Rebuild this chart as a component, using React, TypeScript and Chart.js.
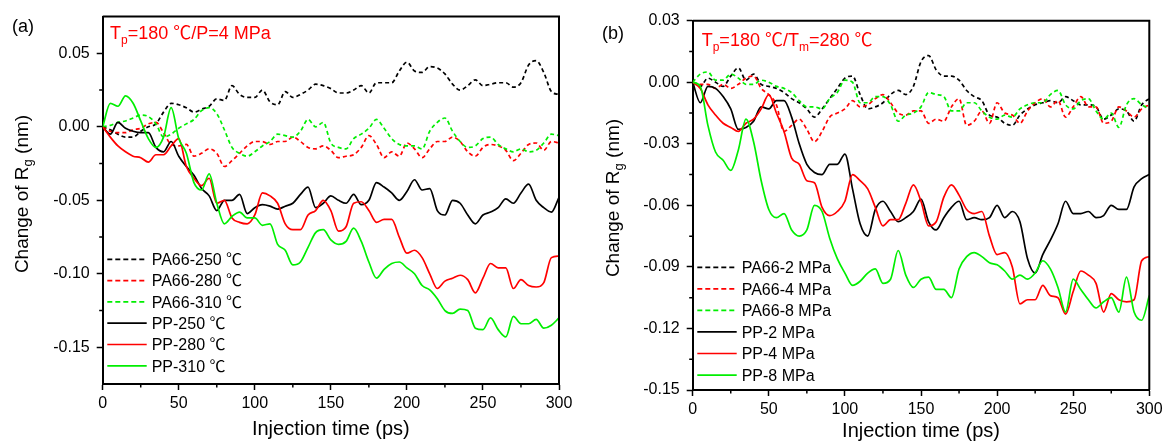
import React, { useEffect, useRef } from "react";
import { Chart, registerables } from "chart.js";

Chart.register(...registerables);

// ---------- DATA ----------
const timePs = [
  0, 5, 10, 15, 20, 25, 30, 35, 40, 45, 50, 55, 60, 65, 70, 75, 80, 85, 90, 95,
  100, 105, 110, 115, 120, 125, 130, 135, 140, 145, 150, 155, 160, 165, 170, 175, 180, 185, 190, 195,
  200, 205, 210, 215, 220, 225, 230, 235, 240, 245, 250, 255, 260, 265, 270, 275, 280, 285, 290, 295, 300,
];

// Panel (a): Tp=180 ℃ / P=4 MPa
const a_PA66_250 = [
  0, -0.002, -0.005, -0.007, -0.007, -0.003, 0, 0.002, 0.010, 0.016,
  0.015, 0.013, 0.010, 0.012, 0.014, 0.019, 0.018, 0.028, 0.022, 0.020,
  0.020, 0.025, 0.017, 0.015, 0.024, 0.020, 0.022, 0.025, 0.029, 0.028,
  0.026, 0.023, 0.023, 0.025, 0.028, 0.023, 0.030, 0.030, 0.030, 0.038,
  0.044, 0.038, 0.037, 0.041, 0.040, 0.036, 0.029, 0.025, 0.028, 0.032,
  0.028, 0.029, 0.030, 0.030, 0.027, 0.030, 0.042, 0.045, 0.037, 0.024, 0.022,
];
const a_PA66_280 = [
  0, -0.003, -0.004, -0.004, -0.002, -0.001, 0.002, 0.003, -0.004, -0.012,
  -0.013, -0.012, -0.020, -0.018, -0.015, -0.018, -0.027, -0.023, -0.018, -0.013,
  -0.010, -0.010, -0.012, -0.010, -0.010, -0.007, -0.010, -0.014, -0.015, -0.013,
  -0.016, -0.021, -0.020, -0.019, -0.014, -0.006, -0.012, -0.021, -0.017, -0.020,
  -0.011, -0.015, -0.021, -0.015, -0.010, -0.010, -0.007, -0.010, -0.017, -0.020,
  -0.014, -0.012, -0.013, -0.016, -0.023, -0.018, -0.012, -0.011, -0.016, -0.010, -0.011,
];
const a_PA66_310 = [
  0, 0.001, 0.003, 0.004, 0.006, 0.008, 0.007, 0.002, -0.007, -0.005,
  -0.001, 0.002, 0.005, 0.011, 0.013, 0.009, -0.002, -0.014, -0.018, -0.020,
  -0.017, -0.013, -0.010, -0.005, -0.006, -0.007, -0.003, 0.005, 0.000, 0.003,
  -0.011, -0.014, -0.015, -0.008, -0.005, -0.001, 0.005, -0.001, -0.008, -0.012,
  -0.013, -0.013, -0.015, -0.003, 0.003, 0.006, -0.003, -0.010, -0.014, -0.013,
  -0.008, -0.007, -0.012, -0.015, -0.017, -0.015, -0.017, -0.016, -0.011, -0.005, -0.006,
];
const a_PP_250 = [
  0, -0.005, 0.003, -0.001, -0.003, -0.004, -0.004, -0.014, -0.017, -0.010,
  -0.020, -0.027, -0.033, -0.042, -0.047, -0.057, -0.050, -0.050, -0.046, -0.059,
  -0.055, -0.053, -0.054, -0.056, -0.054, -0.052, -0.046, -0.041, -0.055, -0.052,
  -0.047, -0.050, -0.052, -0.046, -0.053, -0.050, -0.038, -0.041, -0.045, -0.050,
  -0.044, -0.036, -0.043, -0.042, -0.057, -0.060, -0.050, -0.052, -0.060, -0.066,
  -0.060, -0.058, -0.055, -0.049, -0.052, -0.045, -0.039, -0.050, -0.055, -0.058, -0.048,
];
const a_PP_280 = [
  0, -0.007, -0.013, -0.017, -0.020, -0.021, -0.024, -0.019, -0.019, -0.013,
  -0.008, -0.027, -0.035, -0.040, -0.035, -0.052, -0.050, -0.062, -0.065, -0.066,
  -0.060, -0.045, -0.047, -0.052, -0.066, -0.070, -0.070, -0.060, -0.057, -0.050,
  -0.057, -0.071, -0.068, -0.052, -0.051, -0.057, -0.065, -0.063, -0.063, -0.075,
  -0.086, -0.084, -0.089, -0.100, -0.110, -0.105, -0.103, -0.101, -0.104, -0.113,
  -0.103, -0.093, -0.096, -0.096, -0.110, -0.104, -0.108, -0.109, -0.106, -0.089, -0.088,
];
const a_PP_310 = [
  0, 0.016, 0.014, 0.021, 0.016, 0.004, -0.008, -0.014, -0.007, 0.013,
  -0.008, -0.018, -0.038, -0.043, -0.032, -0.052, -0.066, -0.061, -0.058, -0.062,
  -0.062, -0.067, -0.066, -0.080, -0.084, -0.094, -0.092, -0.082, -0.072, -0.070,
  -0.077, -0.080, -0.078, -0.069, -0.078, -0.092, -0.103, -0.097, -0.093, -0.092,
  -0.096, -0.100, -0.108, -0.111, -0.117, -0.125, -0.127, -0.124, -0.125, -0.137,
  -0.138, -0.130, -0.138, -0.143, -0.129, -0.134, -0.134, -0.131, -0.137, -0.135, -0.130,
];

// Panel (b): Tp=180 ℃ / Tm=280 ℃
const b_PA66_2 = [
  0, -0.002, 0.002, 0, -0.002, 0.003, 0.007, 0.001, 0.004, -0.001,
  -0.002, -0.003, -0.005, -0.008, -0.010, -0.013, -0.017, -0.013, -0.008, -0.003,
  0.002, 0.003, -0.006, -0.013, -0.012, -0.010, -0.006, -0.004, -0.006, -0.002,
  0.010, 0.013, 0.006, 0.003, 0.003, 0.001, -0.004, -0.007, -0.009, -0.016,
  -0.017, -0.020, -0.021, -0.016, -0.013, -0.011, -0.010, -0.009, -0.010, -0.007,
  -0.009, -0.011, -0.011, -0.012, -0.018, -0.016, -0.013, -0.014, -0.019, -0.011, -0.008,
];
const b_PA66_4 = [
  0, -0.001, -0.001, -0.003, -0.001, -0.003, -0.001, 0.002, 0.003, -0.003,
  -0.006, -0.011, -0.024, -0.021, -0.018, -0.023, -0.029, -0.024, -0.017, -0.015,
  -0.013, -0.009, -0.012, -0.011, -0.008, -0.006, -0.010, -0.015, -0.016, -0.014,
  -0.014, -0.020, -0.018, -0.019, -0.012, -0.008, -0.021, -0.019, -0.014, -0.020,
  -0.010, -0.015, -0.016, -0.020, -0.014, -0.010, -0.008, -0.012, -0.009, -0.017,
  -0.012, -0.007, -0.012, -0.012, -0.020, -0.019, -0.012, -0.014, -0.017, -0.013, -0.011,
];
const b_PA66_8 = [
  0, 0.004, 0.005, 0.001, 0.001, 0.004, 0.002, -0.001, -0.001, 0.001,
  0, -0.002, -0.003, -0.005, -0.009, -0.012, -0.012, -0.013, -0.008, -0.005,
  0.001, 0, -0.010, -0.010, -0.007, -0.007, -0.011, -0.019, -0.016, -0.015,
  -0.012, -0.005, -0.006, -0.007, -0.014, -0.014, -0.010, -0.010, -0.014, -0.017,
  -0.018, -0.016, -0.017, -0.013, -0.011, -0.010, -0.010, -0.006, -0.004, -0.011,
  -0.013, -0.009, -0.008, -0.014, -0.018, -0.015, -0.022, -0.011, -0.008, -0.011, -0.013,
];
const b_PP_2 = [
  0, -0.010, -0.002, -0.003, -0.007, -0.013, -0.023, -0.022, -0.019, -0.012,
  -0.013, -0.009, -0.009, -0.017, -0.030, -0.040, -0.044, -0.045, -0.040, -0.040,
  -0.035, -0.052, -0.069, -0.075, -0.062, -0.058, -0.063, -0.068, -0.066, -0.063,
  -0.057, -0.068, -0.072, -0.066, -0.061, -0.058, -0.067, -0.066, -0.067, -0.066,
  -0.060, -0.066, -0.063, -0.068, -0.086, -0.093, -0.084, -0.077, -0.069, -0.058,
  -0.064, -0.064, -0.063, -0.066, -0.065, -0.060, -0.062, -0.062, -0.051, -0.047, -0.045,
];
const b_PP_4 = [
  0, -0.003, -0.011, -0.016, -0.020, -0.022, -0.024, -0.020, -0.018, -0.013,
  -0.006, -0.015, -0.024, -0.037, -0.040, -0.048, -0.049, -0.061, -0.065, -0.063,
  -0.058, -0.045, -0.048, -0.052, -0.061, -0.070, -0.067, -0.067, -0.059, -0.050,
  -0.058, -0.070, -0.068, -0.056, -0.050, -0.055, -0.062, -0.064, -0.063, -0.075,
  -0.084, -0.083, -0.090, -0.108, -0.106, -0.106, -0.099, -0.104, -0.105, -0.113,
  -0.102, -0.092, -0.094, -0.098, -0.112, -0.103, -0.106, -0.107, -0.106, -0.087, -0.085,
];
const b_PP_8 = [
  0, -0.002, -0.021, -0.034, -0.038, -0.043, -0.033, -0.018, -0.029, -0.048,
  -0.062, -0.066, -0.064, -0.072, -0.075, -0.072, -0.060, -0.063, -0.076, -0.086,
  -0.093, -0.099, -0.097, -0.093, -0.091, -0.098, -0.096, -0.082, -0.094, -0.100,
  -0.096, -0.095, -0.101, -0.101, -0.105, -0.091, -0.085, -0.083, -0.085, -0.088,
  -0.089, -0.092, -0.096, -0.094, -0.096, -0.093, -0.087, -0.091, -0.100, -0.112,
  -0.096, -0.101, -0.106, -0.110, -0.107, -0.105, -0.112, -0.095, -0.112, -0.116, -0.104,
];

const labelsA = ["PA66-250 ℃", "PA66-280 ℃", "PA66-310 ℃", "PP-250 ℃", "PP-280 ℃", "PP-310 ℃"];
const labelsB = ["PA66-2 MPa", "PA66-4 MPa", "PA66-8 MPa", "PP-2 MPa", "PP-4 MPa", "PP-8 MPa"];

const xMajorTicks = [0, 50, 100, 150, 200, 250, 300];
const xMinorTicks = [25, 75, 125, 175, 225, 275];
const yMajorTicksA = [-0.15, -0.1, -0.05, 0, 0.05];
const yMinorTicksA = [-0.125, -0.075, -0.025, 0.025];
const yMajorTicksB = [-0.15, -0.12, -0.09, -0.06, -0.03, 0, 0.03];
const yMinorTicksB = [-0.135, -0.105, -0.075, -0.045, -0.015, 0.015];

// ---------- STYLE ----------
const FONT = '"Liberation Sans", Arial, sans-serif';
const CJK = '"Noto Sans CJK SC", "Liberation Sans", sans-serif';
const BLACK = "#000000";
const RED = "#ff0000";
const GREEN = "#00ee00";
const seriesColors = [BLACK, RED, GREEN, BLACK, RED, GREEN];
const seriesDashed = [true, true, true, false, false, false];

type Part = { t: string; size: number; dy?: number };

type PanelCfg = {
  series: number[][];
  labels: string[];
  yMin: number;
  yMax: number;
  yMajor: number[];
  yMinor: number[];
  padding: { left: number; right: number; top: number; bottom: number };
  yWidth: number;
  xHeight: number;
  panelLabel: string;
  panelLabelPos: [number, number];
  note: Part[];
  notePos: [number, number];
  legend: { x0: number; x1: number; tx: number; y0: number; dy: number };
  yTitlePos: [number, number];
  xTitleY: number;
};

const panelA: PanelCfg = {
  series: [a_PA66_250, a_PA66_280, a_PA66_310, a_PP_250, a_PP_280, a_PP_310],
  labels: labelsA,
  yMin: -0.175,
  yMax: 0.075,
  yMajor: yMajorTicksA,
  yMinor: yMinorTicksA,
  padding: { left: 0, right: 26, top: 15, bottom: 0 },
  yWidth: 102.7,
  xHeight: 61,
  panelLabel: "(a)",
  panelLabelPos: [12, 32],
  note: [
    { t: "T", size: 18 },
    { t: "p", size: 12, dy: 5 },
    { t: "=180 ℃/P=4 MPa", size: 18 },
  ],
  notePos: [110, 39.3],
  legend: { x0: 107.3, x1: 146.7, tx: 151.7, y0: 259.3, dy: 21.3 },
  yTitlePos: [27.5, 194],
  xTitleY: 435,
};

const panelB: PanelCfg = {
  series: [b_PA66_2, b_PA66_4, b_PA66_8, b_PP_2, b_PP_4, b_PP_8],
  labels: labelsB,
  yMin: -0.15,
  yMax: 0.03,
  yMajor: yMajorTicksB,
  yMinor: yMinorTicksB,
  padding: { left: 0, right: 19.7, top: 20.7, bottom: 0 },
  yWidth: 107.7,
  xHeight: 55,
  panelLabel: "(b)",
  panelLabelPos: [17, 39],
  note: [
    { t: "T", size: 18 },
    { t: "p", size: 12, dy: 5 },
    { t: "=180 ℃/T", size: 18 },
    { t: "m", size: 12, dy: 5 },
    { t: "=280 ℃", size: 18 },
  ],
  notePos: [116.7, 46],
  legend: { x0: 112.3, x1: 151.7, tx: 156.7, y0: 267.3, dy: 21.55 },
  yTitlePos: [33.5, 198],
  xTitleY: 437,
};

// draws text, rendering the ℃ sign with a CJK (full-width) font
function drawMixed(ctx: CanvasRenderingContext2D, text: string, size: number, x: number, y: number, draw = true) {
  const segs = text.split(/(℃)/);
  let cx = x;
  for (const s of segs) {
    if (!s) continue;
    ctx.font = s === "℃" ? `${size}px ${CJK}` : `${size}px ${FONT}`;
    if (draw) ctx.fillText(s, cx, y);
    cx += ctx.measureText(s).width;
  }
  return cx - x;
}

function drawParts(ctx: CanvasRenderingContext2D, parts: Part[], x: number, y: number, draw = true) {
  let cx = x;
  for (const p of parts) {
    cx += drawMixed(ctx, p.t, p.size, cx, y + (p.dy || 0), draw);
  }
  return cx - x;
}

function makeDecor(cfg: PanelCfg) {
  return {
    id: "decor",
    afterDraw(chart: any) {
      const ctx: CanvasRenderingContext2D = chart.ctx;
      const { left, right, top, bottom } = chart.chartArea;
      const xs = chart.scales.x;
      const ys = chart.scales.y;
      ctx.save();
      ctx.strokeStyle = BLACK;
      ctx.lineWidth = 2;
      ctx.setLineDash([]);
      // frame top & right
      ctx.beginPath();
      ctx.moveTo(left, top);
      ctx.lineTo(right, top);
      ctx.lineTo(right, bottom);
      ctx.stroke();
      // minor ticks
      ctx.lineWidth = 1.5;
      ctx.beginPath();
      for (const v of xMinorTicks) {
        const px = xs.getPixelForValue(v);
        ctx.moveTo(px, bottom);
        ctx.lineTo(px, bottom + 3.5);
      }
      for (const v of cfg.yMinor) {
        const py = ys.getPixelForValue(v);
        ctx.moveTo(left, py);
        ctx.lineTo(left - 3.5, py);
      }
      ctx.stroke();

      // legend
      const lg = cfg.legend;
      chart.data.datasets.forEach((ds: any, i: number) => {
        const y = lg.y0 + i * lg.dy;
        ctx.strokeStyle = ds.borderColor;
        ctx.lineWidth = 1.7;
        ctx.setLineDash(ds.borderDash && ds.borderDash.length ? [5, 3] : []);
        ctx.beginPath();
        ctx.moveTo(lg.x0, y);
        ctx.lineTo(lg.x1, y);
        ctx.stroke();
        ctx.setLineDash([]);
        ctx.fillStyle = BLACK;
        ctx.textBaseline = "alphabetic";
        ctx.textAlign = "left";
        drawMixed(ctx, ds.label, 16, lg.tx, y + 5.8);
      });

      ctx.textAlign = "left";
      ctx.textBaseline = "alphabetic";
      // panel label
      ctx.fillStyle = BLACK;
      ctx.font = `18px ${FONT}`;
      ctx.fillText(cfg.panelLabel, cfg.panelLabelPos[0], cfg.panelLabelPos[1]);

      // note (red)
      ctx.fillStyle = RED;
      drawParts(ctx, cfg.note, cfg.notePos[0], cfg.notePos[1]);

      // x title
      ctx.fillStyle = BLACK;
      ctx.font = `20px ${FONT}`;
      ctx.textAlign = "center";
      ctx.fillText("Injection time (ps)", (left + right) / 2, cfg.xTitleY);

      // y title (rotated)
      const yParts: Part[] = [
        { t: "Change of R", size: 19 },
        { t: "g", size: 13, dy: 4 },
        { t: " (nm)", size: 19 },
      ];
      ctx.textAlign = "left";
      ctx.save();
      ctx.translate(cfg.yTitlePos[0], cfg.yTitlePos[1]);
      ctx.rotate(-Math.PI / 2);
      const w = drawParts(ctx, yParts, 0, 0, false);
      drawParts(ctx, yParts, -w / 2, 0);
      ctx.restore();

      ctx.restore();
    },
  };
}

function Panel({ cfg, x, width }: { cfg: PanelCfg; x: number; width: number }) {
  const ref = useRef<HTMLCanvasElement>(null);
  useEffect(() => {
    const canvas = ref.current!;
    const datasets = cfg.series.map((vals, i) => ({
      label: cfg.labels[i],
      data: timePs.map((t, j) => ({ x: t, y: vals[j] })),
      borderColor: seriesColors[i],
      backgroundColor: seriesColors[i],
      borderWidth: 1.7,
      borderDash: seriesDashed[i] ? [4, 3] : [],
      pointRadius: 0,
      fill: false,
      cubicInterpolationMode: "monotone" as const,
      order: cfg.series.length - i,
    }));
    const tickFont = { family: FONT, size: 16 };
    const chart = new Chart(canvas, {
      type: "line",
      data: { datasets },
      plugins: [makeDecor(cfg)],
      options: {
        animation: false,
        responsive: false,
        maintainAspectRatio: false,
        layout: { padding: cfg.padding },
        plugins: { legend: { display: false }, tooltip: { enabled: false } },
        scales: {
          x: {
            type: "linear",
            min: 0,
            max: 300,
            afterBuildTicks: (s: any) => {
              s.ticks = xMajorTicks.map((v) => ({ value: v }));
            },
            afterFit: (s: any) => {
              s.height = cfg.xHeight;
            },
            ticks: {
              font: tickFont,
              color: BLACK,
              padding: 4,
              maxRotation: 0,
              autoSkip: false,
              callback: (v: any) => String(v),
            },
            grid: {
              drawOnChartArea: false,
              drawTicks: true,
              tickLength: 6,
              tickColor: BLACK,
              tickWidth: 1.5,
              color: BLACK,
            },
            border: { display: true, color: BLACK, width: 2 },
          },
          y: {
            type: "linear",
            min: cfg.yMin,
            max: cfg.yMax,
            afterBuildTicks: (s: any) => {
              s.ticks = cfg.yMajor.map((v) => ({ value: v }));
            },
            afterFit: (s: any) => {
              s.width = cfg.yWidth;
            },
            ticks: {
              font: tickFont,
              color: BLACK,
              padding: 7,
              autoSkip: false,
              callback: (v: any) => Number(v).toFixed(2),
            },
            grid: {
              drawOnChartArea: false,
              drawTicks: true,
              tickLength: 6,
              tickColor: BLACK,
              tickWidth: 1.5,
              color: BLACK,
            },
            border: { display: true, color: BLACK, width: 2 },
          },
        },
      } as any,
    });
    return () => chart.destroy();
  }, [cfg]);
  return (
    <canvas
      ref={ref}
      width={width}
      height={445}
      style={{ position: "absolute", left: x, top: 0, width, height: 445 }}
    />
  );
}

export default function App() {
  return (
    <div
      style={{
        position: "fixed",
        left: 0,
        top: 0,
        width: 1169,
        height: 445,
        background: "#ffffff",
        overflow: "hidden",
      }}
    >
      <Panel cfg={panelA} x={0} width={585} />
      <Panel cfg={panelB} x={585} width={584} />
    </div>
  );
}
